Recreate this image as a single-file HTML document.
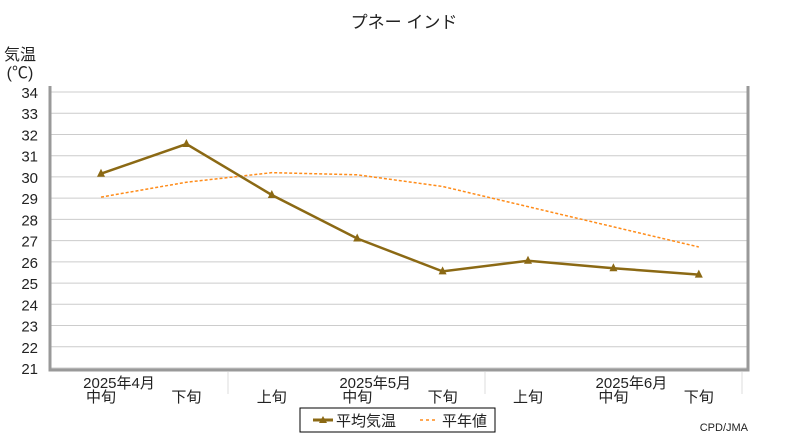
<!DOCTYPE html>
<html><head><meta charset="utf-8"><style>
body{margin:0;background:#fff;width:800px;height:440px;overflow:hidden}
svg text{font-family:"Liberation Sans","Noto Sans CJK JP",sans-serif;fill:#222}
</style></head><body>
<svg id="c" width="800" height="440">
<text x="404" y="28" font-size="17" text-anchor="middle">プネー インド</text>
<text x="20" y="60" font-size="16" text-anchor="middle">気温</text>
<text x="20" y="78" font-size="16" text-anchor="middle">(℃)</text>
<g id="grid"></g><g id="series"></g>
<rect x="300" y="408" width="195" height="24" fill="#fff" stroke="#000"/>
<line x1="313" y1="420" x2="333" y2="420" stroke="#8b6914" stroke-width="3"/>
<path d="M319 423 L323 416 L327 423Z" fill="#8b6914"/>
<text x="336" y="426" font-size="15">平均気温</text>
<line x1="420" y1="420" x2="438" y2="420" stroke="#ff8c1a" stroke-width="1.5" stroke-dasharray="3,3"/>
<text x="442" y="426" font-size="15">平年値</text>
<text x="748" y="431" font-size="11" text-anchor="end" font-family="Liberation Mono">CPD/JMA</text>
</svg>
<script>
const categories=["中旬","下旬","上旬","中旬","下旬","上旬","中旬","下旬"];
const months=["2025年4月","2025年5月","2025年6月"];
const avgTemp=[30.15,31.55,29.15,27.1,25.55,26.05,25.7,25.4];
const normalTemp=[29.05,29.75,30.2,30.1,29.55,28.6,27.65,26.7];
const yTicks=[21,22,23,24,25,26,27,28,29,30,31,32,33,34];
const NS="http://www.w3.org/2000/svg";
const y=v=>368-(v-21)*(276/13);
const x=i=>101+i*85.4;
function mk(p,t,a){const e=document.createElementNS(NS,t);for(const k in a)e.setAttribute(k,a[k]);p.appendChild(e);return e;}
const g=document.getElementById('grid'),s=document.getElementById('series');
yTicks.forEach(v=>{
const l=mk(g,'line',{x1:50,x2:748,y1:y(v),y2:y(v),stroke:'#ccc'});


const t=mk(g,'text',{x:38,y:y(v)+6,'font-size':15,'text-anchor':'end'});t.textContent=v;


});
const fr=mk(g,'path',{d:'M50 86 V370 H748 V86',fill:'none',stroke:'#999','stroke-width':3});


[228,485,742].forEach(px=>{mk(g,'line',{x1:px,x2:px,y1:372,y2:394,stroke:'#ddd'});});
categories.forEach((c,i)=>{
const t=mk(g,'text',{x:x(i),y:402,'font-size':15,'text-anchor':'middle'});t.textContent=c;


});
months.forEach((m,i)=>{
const t=mk(g,'text',{x:x(i*3)+18,y:388,'font-size':15,'text-anchor':'middle'});t.textContent=m;


});
const np=mk(s,'polyline',{points:normalTemp.map((v,i)=>x(i)+','+y(v)).join(' '),fill:'none',stroke:'#ff8c1a','stroke-width':1.5,'stroke-dasharray':'3,2'});


const ap=mk(s,'polyline',{points:avgTemp.map((v,i)=>x(i)+','+y(v)).join(' '),fill:'none',stroke:'#8b6914','stroke-width':2.5});


avgTemp.forEach((v,i)=>{
const px=x(i),py=y(v);
const m=mk(s,'path',{d:`M${px-4} ${py+3} L${px} ${py-5} L${px+4} ${py+3}Z`,fill:'#8b6914'});


});
</script>
</body></html>
